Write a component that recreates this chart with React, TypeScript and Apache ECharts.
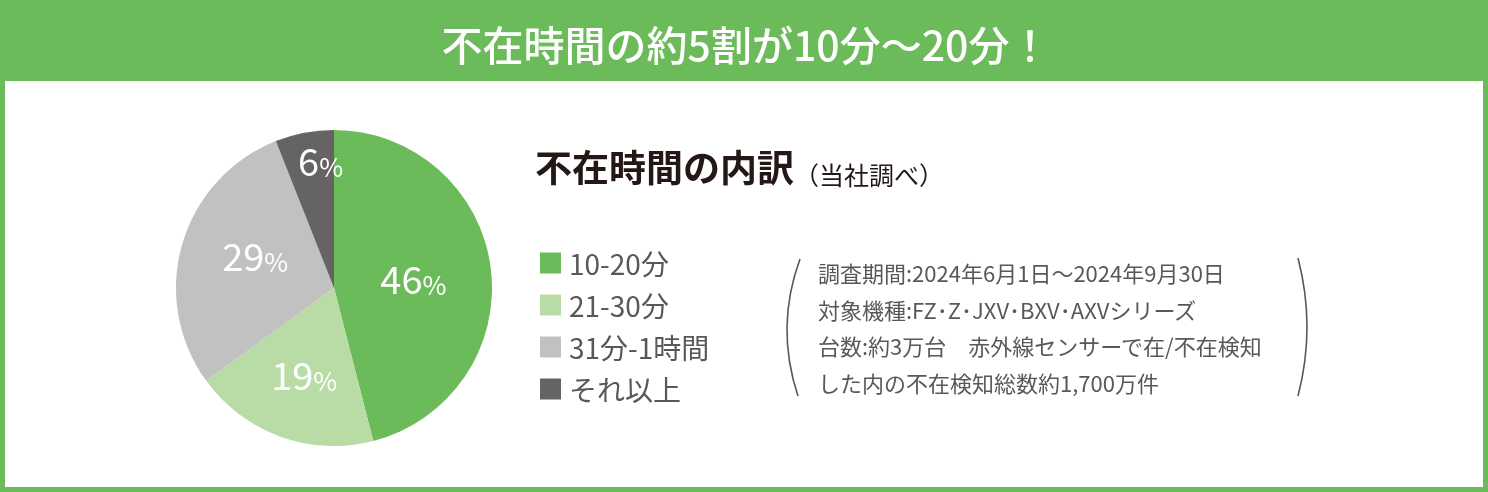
import { useEffect, useRef } from 'react'
import * as echarts from 'echarts'

const categories = ['10-20分', '21-30分', '31分-1時間', 'それ以上']
const shares = [46, 19, 29, 6]
const sliceColors = ['#6cbb5a', '#b9dca7', '#c0c1c0', '#656364']
// nudges from the default "inside" label spot, per slice
const labelShift = [
  [-2, 0],
  [-2, 8],
  [0, -11],
  [2, -48],
]

const headline = '不在時間の約5割が10分〜20分！'
const chartTitle = '不在時間の内訳'
const chartSubtitle = '（当社調べ）'
const noteLines = [
  '調査期間:2024年6月1日〜2024年9月30日',
  '対象機種:FZ･Z･JXV･BXV･AXVシリーズ',
  '台数:約3万台　赤外線センサーで在/不在検知',
  'した内の不在検知総数約1,700万件',
]

const FONT = '"Noto Sans CJK JP", "Noto Sans", sans-serif'
const GREEN = '#6cbb5a'

export default function App() {
  const chartRef = useRef<HTMLDivElement>(null)

  useEffect(() => {
    if (!chartRef.current) return
    const chart = echarts.init(chartRef.current, undefined, { renderer: 'svg' })

    const option = {
      animation: false,
      textStyle: { fontFamily: FONT },
      graphic: [
        { type: 'rect', z: -10, shape: { x: 0, y: 0, width: 1488, height: 492 }, style: { fill: GREEN } },
        { type: 'rect', z: -9, shape: { x: 5, y: 81, width: 1478, height: 406 }, style: { fill: '#ffffff' } },
        {
          type: 'text',
          z: 10,
          x: 746,
          y: 43,
          style: {
            text: headline,
            fill: '#ffffff',
            font: `500 41px ${FONT}`,
            align: 'center',
            verticalAlign: 'middle',
          },
        },
        {
          type: 'bezierCurve',
          z: 10,
          shape: { x1: 800, y1: 259, cpx1: 775, cpy1: 327, x2: 798, y2: 396 },
          style: { stroke: '#595757', lineWidth: 1.6, fill: 'none' },
        },
        {
          type: 'bezierCurve',
          z: 10,
          shape: { x1: 1298, y1: 258, cpx1: 1316, cpy1: 327, x2: 1298, y2: 396 },
          style: { stroke: '#595757', lineWidth: 1.6, fill: 'none' },
        },
      ],
      title: [
        {
          left: 530,
          top: 140,
          text: `{a|${chartTitle}}{b|${chartSubtitle}}`,
          textStyle: {
            fontWeight: 'normal',
            rich: {
              a: { fontFamily: FONT, fontSize: 37, fontWeight: 'bold', color: '#231815', lineHeight: 42 },
              b: {
                fontFamily: FONT,
                fontSize: 25,
                fontWeight: 'normal',
                color: '#231815',
                lineHeight: 31,
                verticalAlign: 'bottom',
              },
            },
          },
        },
        {
          left: 813,
          top: 249,
          text: noteLines.join('\n'),
          textStyle: {
            fontFamily: FONT,
            fontSize: 22,
            fontWeight: 'normal',
            color: '#595757',
            lineHeight: 36.5,
          },
        },
      ],
      legend: {
        orient: 'vertical',
        left: 535,
        top: 244,
        icon: 'rect',
        itemWidth: 21,
        itemHeight: 21,
        itemGap: 14,
        data: categories,
        textStyle: {
          fontFamily: FONT,
          fontSize: 28,
          color: '#595757',
          padding: [0, 0, 0, 3],
        },
      },
      series: [
        {
          type: 'pie',
          center: [334, 288],
          radius: 158,
          startAngle: 90,
          clockwise: true,
          silent: true,
          itemStyle: { borderWidth: 0 },
          label: {
            position: 'inside',
            formatter: (p: any) => `{n|${p.value}}{p|%}`,
            rich: {
              n: { fontFamily: FONT, fontSize: 38, color: '#ffffff', lineHeight: 42 },
              p: {
                fontFamily: FONT,
                fontSize: 26,
                color: '#ffffff',
                lineHeight: 30,
                verticalAlign: 'bottom',
                padding: [0, 0, 2, 0],
              },
            },
          },
          labelLayout: (params: any) => ({
            dx: labelShift[params.dataIndex][0],
            dy: labelShift[params.dataIndex][1],
          }),
          labelLine: { show: false },
          data: categories.map((name, i) => ({
            name,
            value: shares[i],
            itemStyle: { color: sliceColors[i] },
          })),
        },
      ],
    }

    chart.setOption(option)
    return () => chart.dispose()
  }, [])

  return (
    <div
      ref={chartRef}
      style={{ position: 'fixed', left: 0, top: 0, width: 1488, height: 492 }}
    />
  )
}
